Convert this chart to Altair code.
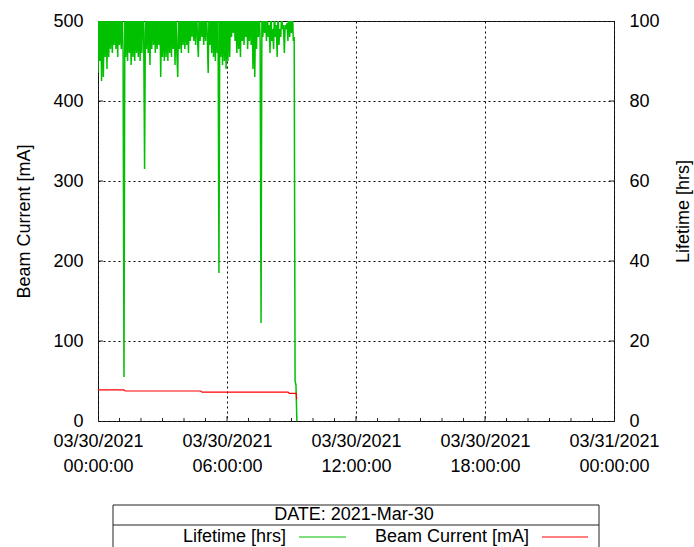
import altair as alt
import pandas as pd

# ---------------- data ----------------
SAMPLE_MIN = 2.5  # sampling interval of the lifetime log (minutes)
lifetime_hrs = [
    87, 104, 90, 103, 85, 104, 86, 102, 91, 104,
    88, 104, 91, 103, 93, 104, 92, 101, 94, 104,
    93, 103, 91, 104, 94, 102, 93, 104, 92, 11,
    104, 91, 103, 90, 104, 92, 102, 89, 104, 91,
    103, 90, 104, 92, 101, 91, 104, 90, 103, 92,
    104, 97, 63, 104, 93, 103, 92, 104, 89, 102,
    93, 104, 94, 103, 92, 104, 93, 101, 94, 104,
    86, 103, 91, 104, 90, 102, 91, 104, 90, 103,
    92, 104, 91, 103, 93, 104, 89, 102, 92, 86,
    104, 93, 103, 92, 104, 94, 102, 93, 104, 94,
    103, 92, 104, 95, 102, 96, 104, 95, 103, 94,
    104, 96, 91, 103, 95, 104, 96, 102, 94, 104,
    95, 103, 96, 87, 104, 94, 102, 92, 104, 91,
    103, 90, 104, 92, 102, 37, 104, 91, 103, 89,
    104, 90, 102, 88, 104, 90, 103, 91, 104, 96,
    102, 97, 104, 95, 103, 92, 104, 93, 102, 91,
    104, 95, 101, 94, 104, 96, 103, 93, 100, 95,
    104, 94, 102, 88, 104, 86, 103, 93, 104, 96,
    103, 95, 24.5, 104, 96, 102, 97, 104, 95, 103,
    96, 99, 92, 104, 95, 98, 93, 103, 96, 99,
    91, 104, 94, 98, 96, 102, 98, 99, 92, 99,
    98, 99.5, 95, 104, 96, 103, 97, 104, 95, 96,
    10, 9, 0,
]
lifetime_hour = [i * SAMPLE_MIN / 60 for i in range(len(lifetime_hrs))]

current_hour = [0.0, 1.20, 1.26, 4.78, 4.84, 8.84, 8.90, 9.22, 9.24]
current_ma = [39.0, 39.0, 37.5, 37.5, 36.0, 36.0, 34.5, 34.5, 27.0]

tick_hours = [0, 6, 12, 18, 24]
tick_dates = ["03/30/2021", "03/30/2021", "03/30/2021", "03/30/2021", "03/31/2021"]
tick_times = ["00:00:00", "06:00:00", "12:00:00", "18:00:00", "00:00:00"]
minor_hours = [h for h in range(1, 24) if h % 6 != 0]

cur_ticks = [0, 100, 200, 300, 400, 500]
life_ticks = [0, 20, 40, 60, 80, 100]

legend_title = "DATE: 2021-Mar-30"
series_names = ["Lifetime [hrs]", "Beam Current [mA]"]
GREEN = "#00c000"
RED = "#ff0000"
FONT = "Liberation Sans"

# ---------------- chart ----------------
label_expr = ""
for h, d, t in zip(tick_hours, tick_dates, tick_times):
    label_expr += f"datum.value == {h} ? ['{d}', '{t}'] : "
label_expr += "''"

x_enc = alt.X(
    "hour:Q",
    scale=alt.Scale(domain=[0, 24], nice=False, zero=False),
    axis=alt.Axis(
        values=tick_hours, labelExpr=label_expr, title=None,
        grid=True, gridDash=[2, 3], gridColor="black", gridOpacity=1, gridWidth=1,
        ticks=False, domain=False, labelPadding=11, labelLineHeight=25,
        labelBaseline="top", labelOverlap=False, labelFlush=False, labelBound=False,
    ),
)

y_cur = alt.Y(
    "current:Q",
    scale=alt.Scale(domain=[0, 500], nice=False, zero=False),
    axis=alt.Axis(
        orient="left", values=cur_ticks, title="Beam Current [mA]",
        grid=True, gridDash=[2, 3], gridColor="black", gridOpacity=1, gridWidth=1,
        ticks=False, domain=False, labelPadding=15,
        titleX=-74, titleY=200, titleAngle=270, titleAlign="center", titleBaseline="middle",
    ),
)

y_life = alt.Y(
    "lifetime:Q",
    scale=alt.Scale(domain=[0, 100], nice=False, zero=False),
    axis=alt.Axis(
        orient="right", values=life_ticks, title="Lifetime [hrs]",
        grid=False, ticks=False, domain=False, labelPadding=15,
        titleX=69, titleY=190, titleAngle=270, titleAlign="center", titleBaseline="middle",
    ),
)

life_df = pd.DataFrame({"hour": lifetime_hour, "lifetime": lifetime_hrs})
cur_df = pd.DataFrame({"hour": current_hour, "current": current_ma})

green_line = alt.Chart(life_df).mark_line(color=GREEN, strokeWidth=1.5, clip=True).encode(
    x=x_enc, y=y_life
)
right_ticks = alt.Chart(pd.DataFrame({"lifetime": life_ticks[1:-1]})).mark_rule(
    color="#222", strokeWidth=1
).encode(x=alt.value(516), x2=alt.value(511), y=y_life)

red_line = alt.Chart(cur_df).mark_line(color=RED, strokeWidth=1.2, clip=True).encode(
    x=x_enc, y=y_cur
)
left_ticks = alt.Chart(pd.DataFrame({"current": cur_ticks[1:-1]})).mark_rule(
    color="#222", strokeWidth=1
).encode(x=alt.value(0), x2=alt.value(5), y=y_cur)

major_x = alt.Chart(pd.DataFrame({"hour": tick_hours[1:-1]})).mark_rule(
    color="#222", strokeWidth=1
).encode(x=x_enc, y=alt.value(400), y2=alt.value(395))
minor_x = alt.Chart(pd.DataFrame({"hour": minor_hours})).mark_rule(
    color="#222", strokeWidth=1
).encode(x=x_enc, y=alt.value(400), y2=alt.value(397))

one = pd.DataFrame({"k": [0]})
leg_box = alt.Chart(one).mark_rect(fill="white", stroke="#222", strokeWidth=1).encode(
    x=alt.value(15), x2=alt.value(501), y=alt.value(484), y2=alt.value(560)
)
leg_sep = alt.Chart(one).mark_rule(color="#222", strokeWidth=1).encode(
    x=alt.value(15), x2=alt.value(501), y=alt.value(504)
)
leg_title = alt.Chart(one).mark_text(
    font=FONT, fontSize=18, align="center", baseline="middle", color="black"
).encode(x=alt.value(256), y=alt.value(494), text=alt.value(legend_title))
leg_life_txt = alt.Chart(one).mark_text(
    font=FONT, fontSize=18, align="right", baseline="middle", color="black"
).encode(x=alt.value(188), y=alt.value(516), text=alt.value(series_names[0]))
leg_cur_txt = alt.Chart(one).mark_text(
    font=FONT, fontSize=18, align="right", baseline="middle", color="black"
).encode(x=alt.value(431), y=alt.value(516), text=alt.value(series_names[1]))
leg_life_line = alt.Chart(one).mark_rule(color=GREEN, strokeWidth=1).encode(
    x=alt.value(201), x2=alt.value(248), y=alt.value(516)
)
leg_cur_line = alt.Chart(one).mark_rule(color=RED, strokeWidth=1).encode(
    x=alt.value(444), x2=alt.value(490), y=alt.value(516)
)

right_layer = alt.layer(green_line, right_ticks)
left_layer = alt.layer(red_line, left_ticks)

chart = (
    alt.layer(
        right_layer, left_layer, major_x, minor_x,
        leg_box, leg_sep, leg_title, leg_life_txt, leg_cur_txt, leg_life_line, leg_cur_line,
    )
    .resolve_scale(y="independent")
    .properties(
        width=516, height=400,
        autosize=alt.AutoSizeParams(type="none"),
        padding={"left": 98, "top": 21, "right": 80, "bottom": 126},
        background="white",
    )
    .configure_view(stroke="#222", strokeWidth=1)
    .configure_axis(
        labelFont=FONT, labelFontSize=18, labelColor="black",
        titleFont=FONT, titleFontSize=18, titleColor="black", titleFontWeight="normal",
    )
)

chart.save("out.html", embed_options={"renderer": "svg", "actions": False})
